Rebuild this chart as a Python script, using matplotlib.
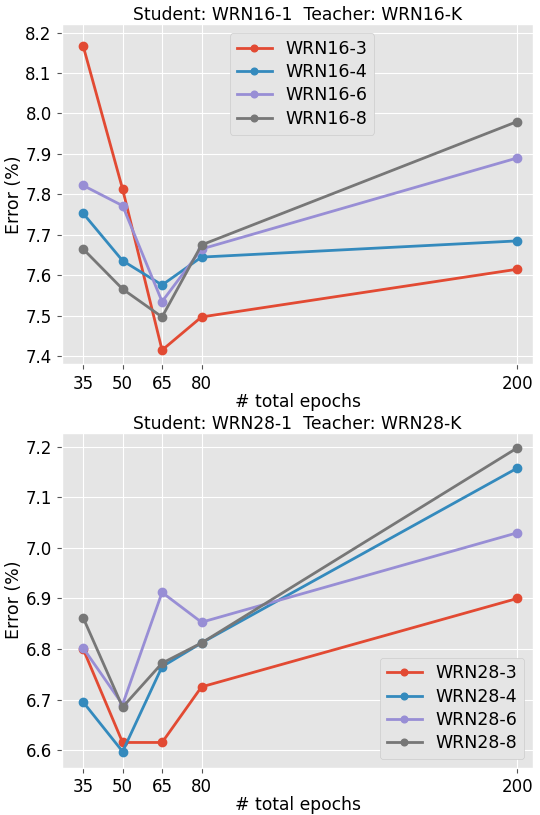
import numpy as np
import matplotlib
matplotlib.use('Agg')
from matplotlib import pyplot as plt

plt.style.use('ggplot')

epochs = [35, 50, 65, 80, 200]

# top: Student WRN16-1
wrn16_labels = ['WRN16-3', 'WRN16-4', 'WRN16-6', 'WRN16-8']
wrn16_3 = [8.167, 7.813, 7.415, 7.497, 7.615]
wrn16_4 = [7.753, 7.636, 7.576, 7.645, 7.685]
wrn16_6 = [7.822, 7.772, 7.535, 7.665, 7.890]
wrn16_8 = [7.665, 7.566, 7.497, 7.675, 7.980]

# bottom: Student WRN28-1
wrn28_labels = ['WRN28-3', 'WRN28-4', 'WRN28-6', 'WRN28-8']
wrn28_3 = [6.800, 6.615, 6.615, 6.725, 6.900]
wrn28_4 = [6.695, 6.597, 6.765, 6.812, 7.158]
wrn28_6 = [6.802, 6.690, 6.912, 6.853, 7.030]
wrn28_8 = [6.862, 6.685, 6.772, 6.812, 7.198]

colors = ['#E24A33', '#348ABD', '#988ED5', '#777777']

fig = plt.figure(figsize=(5.4, 8.15), dpi=100)
ax1 = fig.add_axes([0.115, 0.553, 0.872, 0.417])
ax2 = fig.add_axes([0.115, 0.058, 0.872, 0.411])

for ys, lab, c in zip([wrn16_3, wrn16_4, wrn16_6, wrn16_8], wrn16_labels, colors):
    ax1.plot(epochs, ys, '-o', color=c, label=lab, lw=2, ms=6)
for ys, lab, c in zip([wrn28_3, wrn28_4, wrn28_6, wrn28_8], wrn28_labels, colors):
    ax2.plot(epochs, ys, '-o', color=c, label=lab, lw=2, ms=6)

for ax, title in [(ax1, 'Student: WRN16-1  Teacher: WRN16-K'),
                  (ax2, 'Student: WRN28-1  Teacher: WRN28-K')]:
    ax.set_xticks(epochs)
    ax.set_xlim(27, 206)
    ax.set_title(title, fontsize=12.3, color='black', pad=3)
    ax.set_xlabel('# total epochs', fontsize=12.3, color='black', labelpad=0)
    ax.set_ylabel('Error (%)', fontsize=12.5, color='black', labelpad=2)
    ax.tick_params(labelsize=12, labelcolor='black', pad=4)

ax1.set_ylim(7.38, 8.22)
ax1.set_yticks([7.4, 7.5, 7.6, 7.7, 7.8, 7.9, 8.0, 8.1, 8.2])
ax2.set_ylim(6.565, 7.228)
ax2.set_yticks([6.6, 6.7, 6.8, 6.9, 7.0, 7.1, 7.2])

ax1.legend(loc='upper center', fontsize=12.5, facecolor='#E5E5E5', framealpha=1,
           bbox_to_anchor=(0.51, 1.0), labelspacing=0.3, markerscale=0.8)
ax2.legend(loc='lower right', fontsize=12.5, facecolor='#E5E5E5', framealpha=1,
           labelspacing=0.3, markerscale=0.8)

fig.savefig('out.png', dpi=100)
